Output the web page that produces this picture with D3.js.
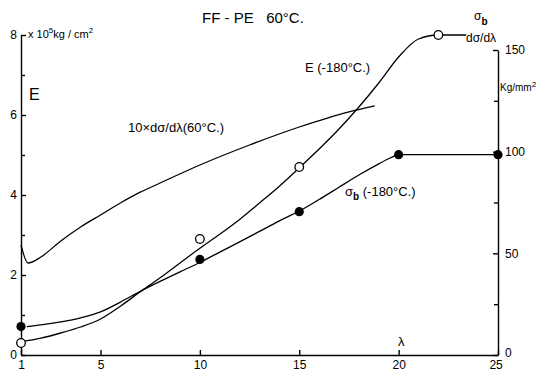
<!DOCTYPE html>
<html><head><meta charset="utf-8">
<script src="https://cdn.jsdelivr.net/npm/d3@7"></script>
<style>body{margin:0;background:#fff}svg{display:block}text{font-family:"Liberation Sans",Arial,sans-serif;fill:#000;white-space:pre}</style>
</head><body><svg id="c" width="547" height="373"></svg>
<script>
// Data
const xTicks = [1,5,10,15,20,25];
const leftTicks = [0,2,4,6,8];
const leftMinor = [1,3,5,7];
const rightTicks = [0,50,100,150];
const rightMinor = [25,75,125];
// E (-180°C), ×10^5 kg/cm², left axis
const eLambda = [1,2,3,4,5,6,7,8,9,10,11,12,13,14,15,16,17,18,19,20,21,22,23.4];
const eCurve  = [0.33,0.42,0.55,0.7,0.9,1.22,1.58,1.93,2.3,2.67,3.02,3.39,3.8,4.22,4.68,5.15,5.65,6.2,6.8,7.45,7.9,8.0,8.0];
const ePtsLambda = [1,10,15,22];
const ePts = [0.3,2.9,4.7,8.0];
// 10 × dσ/dλ (60°C), left axis
const dLambda = [1,1.35,2,3,4,5,6,7,8,10,12.5,15,17.5,18.8];
const dCurve  = [2.75,2.3,2.45,2.85,3.2,3.5,3.8,4.07,4.3,4.75,5.25,5.7,6.08,6.23];
// σb (-180°C), kg/mm², right axis
const sLambda = [1.3,2,3,4,5,6,7,8,9,10,11,12,13,14,15,16,17,18,19,19.6,20,25];
const sCurve  = [14,14.8,16.3,18.3,21.2,26,31.3,36.2,40.9,45.5,50.6,55.6,60.8,66,70.8,76.5,82.5,88.5,94,97,98.5,98.5];
const sPtsLambda = [1,10,15,20,25];
const sPts = [14,47,70.5,98.5,98.5];

const svg = d3.select("#c");
const x = d3.scaleLinear().domain([1,25]).range([21,498]);
const yL = d3.scaleLinear().domain([0,8]).range([355,35]);
const yR = d3.scaleLinear().domain([0,150]).range([355,50]);

function styleAxis(g){
  g.selectAll("path,line").attr("stroke","#000").attr("stroke-width",1.4);
  g.selectAll("text").attr("font-size",12).attr("font-family",'"Liberation Sans",Arial,sans-serif');
}
// left axis
svg.append("g").attr("transform","translate(21,0)")
  .call(d3.axisLeft(yL).tickValues(leftTicks).tickSizeInner(-5).tickSizeOuter(0).tickPadding(4).tickFormat(d3.format("d")))
  .call(styleAxis);
svg.append("g").attr("transform","translate(21,0)")
  .call(d3.axisLeft(yL).tickValues(leftMinor).tickSizeInner(-4).tickSizeOuter(0).tickFormat(""))
  .call(g=>{g.select(".domain").remove();styleAxis(g);});
// right axis
svg.append("g").attr("transform","translate(498,0)")
  .call(d3.axisRight(yR).tickValues(rightTicks).tickSizeInner(-5).tickSizeOuter(0).tickPadding(7).tickFormat(d3.format("d")))
  .call(styleAxis)
  .call(g=>g.selectAll(".tick text").filter(d=>d===0).attr("dy","0.1em"));
svg.append("g").attr("transform","translate(498,0)")
  .call(d3.axisRight(yR).tickValues(rightMinor).tickSizeInner(-4).tickSizeOuter(0).tickFormat(""))
  .call(g=>{g.select(".domain").remove();styleAxis(g);});
// bottom axis
svg.append("g").attr("transform","translate(0,355)")
  .call(d3.axisBottom(x).tickValues(xTicks).tickSizeInner(-5).tickSizeOuter(0).tickPadding(5).tickFormat(d3.format("d")))
  .call(styleAxis)
  .call(g=>g.selectAll(".tick text").filter(d=>d===25).attr("dx","-0.2em"));

const lineL = (xs,ys)=>d3.line().curve(d3.curveMonotoneX).x((d,i)=>x(xs[i])).y(d=>yL(d))(ys);
const lineR = (xs,ys)=>d3.line().curve(d3.curveMonotoneX).x((d,i)=>x(xs[i])).y(d=>yR(d))(ys);
svg.append("path").attr("d",lineL(dLambda,dCurve)).attr("fill","none").attr("stroke","#000").attr("stroke-width",1.3);
svg.append("path").attr("d",lineL(eLambda,eCurve)).attr("fill","none").attr("stroke","#000").attr("stroke-width",1.3);
svg.append("path").attr("d",lineR(sLambda,sCurve)).attr("fill","none").attr("stroke","#000").attr("stroke-width",1.3);

svg.append("g").selectAll("circle").data(ePts).join("circle")
  .attr("cx",(d,i)=>x(ePtsLambda[i])).attr("cy",d=>yL(d)).attr("r",4.3)
  .attr("fill","#fff").attr("stroke","#000").attr("stroke-width",1.3);
svg.append("g").selectAll("circle").data(sPts).join("circle")
  .attr("cx",(d,i)=>x(sPtsLambda[i])).attr("cy",d=>yR(d)).attr("r",4.6)
  .attr("fill","#000");

// texts
const T=(tx,ty,s,size,anchor)=>svg.append("text").attr("x",tx).attr("y",ty).attr("font-size",size).attr("text-anchor",anchor||"start").text(s);
T(202,23,"FF - PE   60°C.",15);
const u=svg.append("text").attr("x",28).attr("y",38).attr("font-size",11);
u.append("tspan").text("x 10");
u.append("tspan").attr("dy",-5).attr("font-size",8).text("5");
u.append("tspan").attr("dy",5).text("kg / cm");
u.append("tspan").attr("dy",-5).attr("font-size",8).text("2");
T(29,100,"E",16);
T(128,132,"10×dσ/dλ(60°C.)",13);
T(305,72,"E (-180°C.)",13);
const sb=svg.append("text").attr("x",345).attr("y",196).attr("font-size",13);
sb.append("tspan").text("σ");
sb.append("tspan").attr("dy",4).attr("font-size",10).attr("font-weight","bold").text("b");
sb.append("tspan").attr("dy",-4).text(" (-180°C.)");
const sr=svg.append("text").attr("x",474).attr("y",20).attr("font-size",12);
sr.append("tspan").text("σ");
sr.append("tspan").attr("dy",5).attr("font-size",10).attr("font-weight","bold").text("b");
T(466,42,"dσ/dλ",12);
const kg=svg.append("text").attr("x",500).attr("y",91).attr("font-size",10);
kg.append("tspan").text("Kg/mm");
kg.append("tspan").attr("dy",-4).attr("font-size",8).text("2");
T(398,346,"λ",13);
</script></body></html>
